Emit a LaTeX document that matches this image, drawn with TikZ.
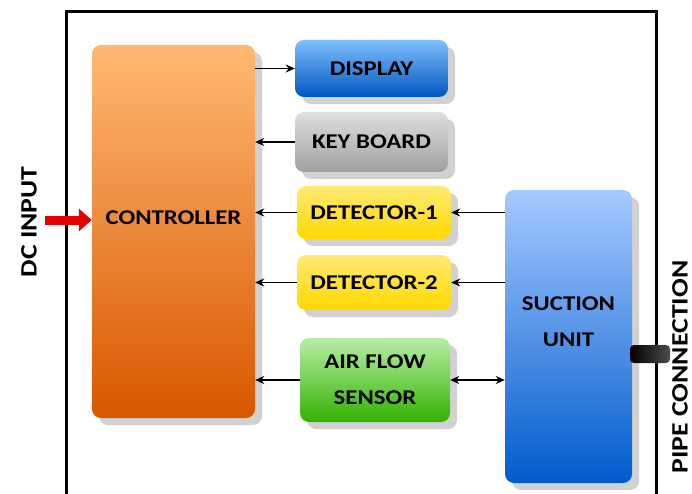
\documentclass[tikz,border=0pt]{standalone}
\usepackage{fontspec}
\setmainfont{Carlito}[FakeStretch=1.18]
\usepackage{tikz}
\usetikzlibrary{arrows.meta,shadows}

\begin{document}
\begin{tikzpicture}[x=1pt,y=-1pt,>={Stealth[length=9pt,width=8pt]},
txt/.style={font=\fontsize{21}{25}\selectfont\bfseries,align=center},
side/.style={font=\fontsize{23.5}{28}\selectfont\bfseries,rotate=90},
blk/.style={txt,rounded corners=9pt,inner sep=0pt,
 drop shadow={shadow xshift=7pt,shadow yshift=-7pt,opacity=0.18,fill=black}},
lnk/.style={line width=1.7pt,->}]
\useasboundingbox (0,0) rectangle (692,494);
\draw[line width=3pt](66,494)--(66,12)--(656,12)--(656,494);
\node[blk,minimum width=163pt,minimum height=373pt,top color=orange!55!white,bottom color=orange!80!red!85!black](ctrl) at (173.5,231.5){};
\node[txt](ctrltxt) at (173.5,218){CONTROLLER};
\node[blk,minimum width=153pt,minimum height=57pt,top color=blue!50!cyan!50!white,bottom color=blue!55!cyan!75!black](disp) at (371.5,68.5){DISPLAY};
\node[blk,minimum width=153pt,minimum height=60pt,top color=gray!25,bottom color=gray!75](key) at (371.5,142){KEY BOARD};
\node[blk,minimum width=154pt,minimum height=53pt,top color=yellow!70!orange!55!white,bottom color=yellow!70!orange](det1) at (374,212.5){DETECTOR-1};
\node[blk,minimum width=154pt,minimum height=55pt,top color=yellow!70!orange!55!white,bottom color=yellow!70!orange](det2) at (374,282.5){DETECTOR-2};
\node[blk,minimum width=150pt,minimum height=84pt,top color=green!60!olive!35!white,bottom color=green!55!olive!90!black](air) at (375,380){AIR FLOW\\[11pt]SENSOR};
\node[blk,minimum width=127pt,minimum height=293pt,top color=cyan!40!blue!35!white,bottom color=cyan!45!blue!80!black](suct) at (568.5,336.5){};
\node[txt](suctxt) at (568.5,322){SUCTION\\[11pt]UNIT};
\node[rounded corners=4pt,minimum width=40pt,minimum height=18pt,left color=black,right color=black!70](pipe) at (650,354){};
\draw[lnk](ctrl.east|-disp)--(disp.west);
\draw[lnk](key.west)--(key.west-|ctrl.east);
\draw[lnk](det1.west)--(det1.west-|ctrl.east);
\draw[lnk](det2.west)--(det2.west-|ctrl.east);
\draw[lnk](air.west)--(air.west-|ctrl.east);
\draw[lnk](suct.west|-det1)--(det1.east);
\draw[lnk](suct.west|-det2)--(det2.east);
\draw[lnk,<->](air.east)--(air.east-|suct.west);
\coordinate(dcin) at (45,220);
\draw[line width=9pt,red!90!black,-{Triangle[length=13pt,width=22pt]}](dcin)--(ctrl.west|-dcin);
\node[side](dc) at (29,222){DC INPUT};
\node[side](pc) at (680,367){PIPE CONNECTION};
\end{tikzpicture}
\end{document}
